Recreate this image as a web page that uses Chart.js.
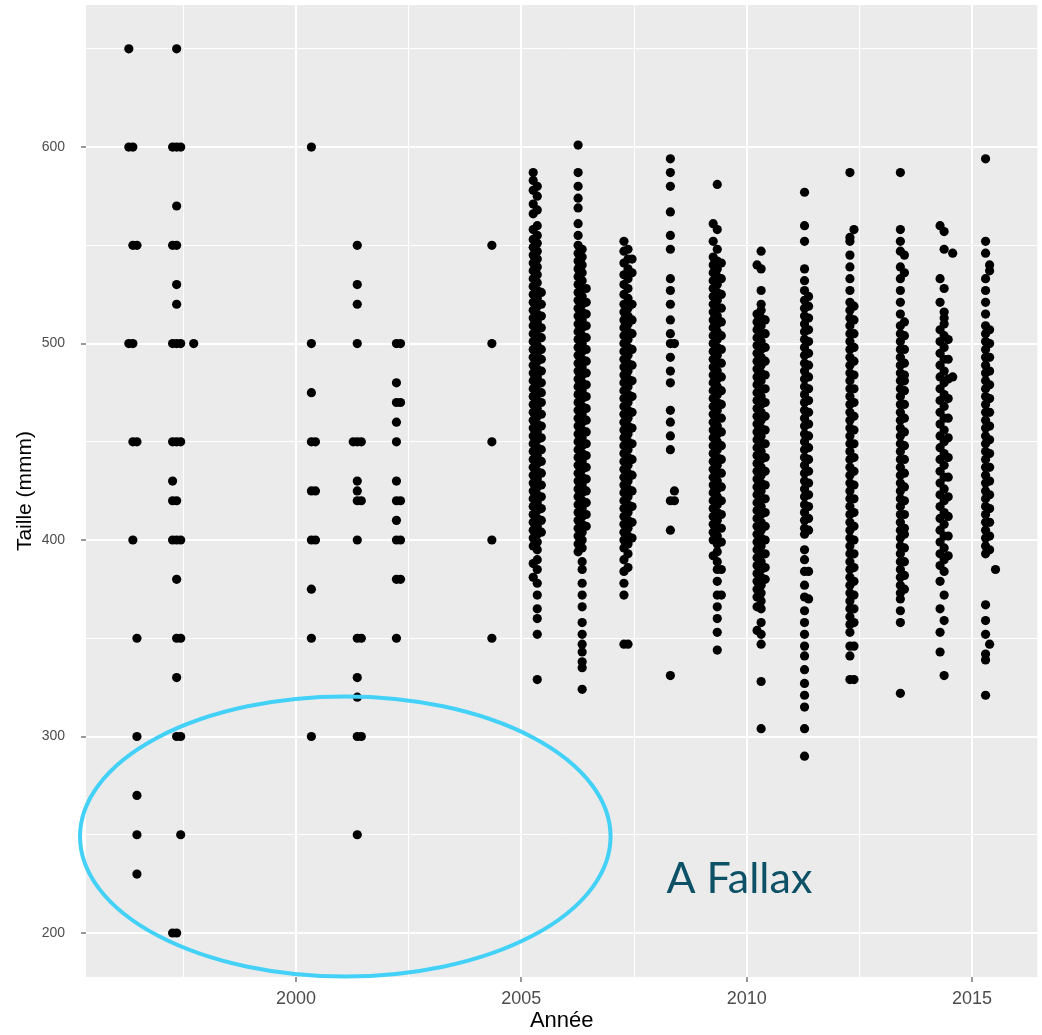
<!DOCTYPE html>
<html>
<head>
<meta charset="utf-8">
<title>Taille par année</title>
<script src="https://cdn.jsdelivr.net/npm/chart.js@4.4.1/dist/chart.umd.min.js"></script>
<style>
  html, body { margin: 0; padding: 0; background: #ffffff; }
  #tailleChart { display: block; }
</style>
</head>
<body>
<canvas id="tailleChart" width="1042" height="1035"></canvas>
<script>
// campagnes d'échantillonnage (année et date décimale de la pêche)
const annees = [1996, 1997, 2000, 2001, 2002, 2004, 2005, 2006, 2007, 2008, 2009, 2010, 2011, 2012, 2013, 2014, 2015];
const dateCampagne = [1996.383, 1997.354, 2000.343, 2001.361, 2002.23, 2004.347, 2005.354, 2006.35, 2007.367,
	2008.307, 2009.347, 2010.32, 2011.283, 2012.29, 2013.409, 2014.38, 2015.299];
// décalage des trois files de points d'une même campagne (gauche, centre, droite)
const decalage = [-0.09, 0, 0.09];

// tailles mesurées (mm), une liste par file
const taille1996 = [[650, 600, 500], [600, 550, 500, 450, 400], [550, 450, 350, 300, 270, 250, 230]];
const taille1997 = [
	[600, 550, 500, 450, 430, 420, 400, 200],
	[650, 600, 570, 550, 530, 520, 500, 450, 420, 400, 380, 350, 330, 300, 200],
	[600, 500, 450, 400, 350, 300, 250]];
const taille2000 = [[], [600, 500, 475, 450, 425, 400, 375, 350, 300], [450, 425, 400]];
const taille2001 = [[450], [550, 530, 520, 500, 450, 430, 425, 420, 400, 350, 330, 320, 300, 250], [450, 420, 350, 300]];
const taille2002 = [[], [500, 480, 470, 460, 450, 430, 420, 410, 400, 380, 350], [500, 470, 420, 400, 380]];
const taille2004 = [[], [550, 500, 450, 400, 350], []];
const taille2005 = [
	[587, 583, 578, 571, 566, 558, 553, 549, 545, 541, 537, 533, 529, 525, 521, 517, 513, 509, 505, 501, 497, 493, 489,
		485, 481, 477, 473, 469, 465, 461, 457, 453, 449, 445, 441, 437, 433, 429, 425, 421, 417, 413, 409, 405, 401, 397, 388, 381],
	[580, 575, 568, 560, 555, 551, 547, 543, 539, 535, 531, 527, 523, 519, 515, 511, 507, 503, 499, 495, 491, 487, 483,
		479, 475, 471, 467, 463, 459, 455, 451, 447, 443, 439, 435, 431, 427, 423, 419, 415, 411, 407, 403, 399, 395, 390,
		385, 378, 372, 365, 360, 352, 329],
	[526, 520, 514, 508, 503, 497, 492, 486, 480, 475, 470, 464, 458, 452, 446, 440, 434, 428, 422, 416, 410, 404]];
const taille2006 = [
	[601, 587, 580, 574, 569, 561, 555, 550, 546, 542, 538, 534, 530, 526, 522, 518, 514, 510, 506, 502, 498, 494, 490,
		486, 482, 478, 474, 470, 466, 462, 458, 454, 450, 446, 442, 438, 434, 430, 426, 422, 418, 414, 410, 406, 402, 398, 394],
	[548, 544, 540, 536, 532, 528, 524, 520, 516, 512, 508, 504, 500, 496, 492, 488, 484, 480, 476, 472, 468, 464, 460,
		456, 452, 448, 444, 440, 436, 432, 428, 424, 420, 416, 412, 408, 404, 400, 396, 389, 385, 378, 372, 366, 358, 352,
		347, 343, 338, 335, 324],
	[528, 521, 515, 509, 503, 497, 491, 485, 479, 473, 467, 461, 455, 449, 443, 437, 431, 425, 419, 413, 407]];
const taille2007 = [
	[552, 547, 541, 535, 530, 525, 520, 516, 512, 508, 504, 500, 496, 492, 488, 484, 480, 476, 472, 468, 464, 460, 456,
		452, 448, 444, 440, 436, 432, 428, 424, 420, 416, 412, 408, 404, 400, 396, 390, 384, 378, 372, 347],
	[548, 543, 538, 533, 528, 523, 518, 514, 510, 506, 502, 498, 494, 490, 486, 482, 478, 474, 470, 466, 462, 458, 454,
		450, 446, 442, 438, 434, 430, 426, 422, 418, 414, 410, 406, 402, 398, 393, 386, 347],
	[543, 536, 520, 512, 505, 497, 489, 481, 473, 465, 457, 449, 441, 433, 425, 417, 409, 401]];
const taille2008 = [[],
	[594, 587, 580, 567, 555, 548, 533, 527, 520, 512, 505, 500, 493, 486, 480, 466, 460, 453, 446, 420, 405, 331],
	[500, 425, 420]];
const taille2009 = [
	[561, 552, 544, 540, 536, 532, 528, 524, 520, 516, 512, 508, 504, 500, 496, 492, 488, 484, 480, 476, 472, 468, 464,
		460, 456, 452, 448, 444, 440, 436, 432, 428, 424, 420, 416, 412, 408, 404, 400, 392],
	[581, 558, 548, 542, 538, 534, 530, 526, 522, 518, 514, 510, 506, 502, 498, 494, 490, 486, 482, 478, 474, 470, 466,
		462, 458, 454, 450, 446, 442, 438, 434, 430, 426, 422, 418, 414, 410, 406, 402, 398, 394, 389, 385, 379, 372, 366,
		360, 353, 344],
	[541, 533, 525, 518, 511, 504, 497, 490, 483, 476, 469, 462, 455, 448, 441, 434, 427, 420, 413, 406, 399, 385, 372]];
const taille2010 = [
	[540, 515, 511, 507, 503, 499, 495, 491, 487, 483, 479, 475, 471, 467, 463, 459, 455, 451, 447, 443, 439, 435, 431,
		427, 423, 419, 415, 411, 407, 403, 399, 395, 391, 387, 383, 379, 375, 371, 366, 354],
	[547, 538, 527, 520, 517, 513, 509, 505, 501, 497, 493, 489, 485, 481, 477, 473, 469, 465, 461, 457, 453, 449, 445,
		441, 437, 433, 429, 425, 421, 417, 413, 409, 405, 401, 397, 393, 389, 385, 381, 377, 373, 369, 365, 358, 352, 347,
		328, 304],
	[512, 505, 498, 491, 484, 477, 470, 463, 456, 449, 442, 435, 428, 421, 414, 407, 400, 393, 386, 380]];
const taille2011 = [[],
	[577, 560, 552, 538, 532, 527, 522, 518, 514, 510, 506, 502, 498, 494, 490, 486, 482, 478, 474, 470, 466, 462, 458,
		454, 450, 446, 442, 438, 434, 430, 426, 422, 418, 414, 410, 406, 403, 395, 390, 384, 377, 371, 364, 358, 352, 346,
		341, 334, 327, 321, 315, 304, 290],
	[524, 519, 513, 507, 501, 495, 489, 483, 477, 471, 465, 459, 453, 447, 441, 435, 429, 423, 417, 411, 405, 384, 370]];
const taille2012 = [[],
	[587, 554, 552, 545, 539, 533, 527, 521, 517, 513, 509, 505, 501, 497, 493, 489, 485, 481, 477, 473, 469, 465, 461,
		457, 453, 449, 445, 441, 437, 433, 429, 425, 421, 417, 413, 409, 405, 401, 397, 393, 389, 385, 381, 377, 373, 369,
		365, 361, 357, 353, 346, 341, 329],
	[558, 519, 512, 505, 498, 491, 484, 477, 470, 463, 456, 449, 442, 435, 428, 421, 414, 407, 400, 393, 386, 379, 372,
		365, 358, 346, 329]];
const taille2013 = [[],
	[587, 558, 552, 547, 539, 533, 527, 521, 515, 509, 505, 501, 497, 493, 489, 485, 481, 477, 473, 469, 465, 461, 457,
		453, 449, 445, 441, 437, 433, 429, 425, 421, 417, 413, 409, 405, 401, 397, 393, 389, 385, 381, 377, 373, 370, 364,
		358, 322],
	[545, 536, 511, 504, 497, 490, 484, 481, 476, 469, 462, 455, 448, 441, 434, 427, 420, 413, 406, 403, 396, 389, 382, 375]];
const taille2014 = [
	[560, 533, 521, 507, 501, 495, 489, 483, 477, 471, 465, 459, 453, 447, 441, 435, 429, 423, 417, 411, 405, 399, 393,
		387, 379, 365, 353, 343],
	[557, 548, 528, 516, 513, 510, 504, 498, 492, 486, 480, 474, 468, 462, 456, 450, 444, 438, 432, 426, 420, 414, 408,
		402, 396, 390, 384, 372, 359, 331],
	[502, 492, 482, 472, 462, 452, 442, 432, 422, 412, 402, 392]];
const taille2015 = [[],
	[594, 552, 546, 533, 527, 521, 515, 509, 505, 501, 497, 493, 489, 485, 481, 477, 473, 469, 465, 461, 457, 453, 449,
		445, 441, 437, 433, 429, 425, 421, 417, 413, 409, 405, 401, 397, 393, 367, 359, 352, 342, 339, 321],
	[540, 537, 507, 500, 493, 486, 479, 472, 465, 458, 451, 444, 437, 430, 423, 416, 409, 402, 395, 347]];
const tailles = [taille1996, taille1997, taille2000, taille2001, taille2002, taille2004, taille2005, taille2006,
	taille2007, taille2008, taille2009, taille2010, taille2011, taille2012, taille2013, taille2014, taille2015];

// quelques poissons pris hors des files
const horsFile = [[1997.732, 500], [2014.57, 546], [2014.57, 483], [2015.52, 385]];

// graduations
const xMajeur = [2000, 2005, 2010, 2015];
const xMineur = [1997.5, 2002.5, 2007.5, 2012.5];
const yMajeur = [200, 300, 400, 500, 600];
const yMineur = [250, 350, 450, 550, 650];

// ellipse et légende "A Fallax"
const ellipseCentre = [2001.095, 249.1];
const ellipseRayons = [5.885, 71.3];
const etiquette = 'A Fallax';
const etiquettePos = [2008.22, 220.4];

var points = [];
for (var i = 0; i < annees.length; i++) {
	for (var f = 0; f < 3; f++) {
		var liste = tailles[i][f];
		for (var k = 0; k < liste.length; k++) {
			points.push({x: dateCampagne[i] + decalage[f], y: liste[k]});
		}
	}
}
for (var h = 0; h < horsFile.length; h++) {
	points.push({x: horsFile[h][0], y: horsFile[h][1]});
}

function isMajeur(scale, value) {
	var liste = scale.axis === 'x' ? xMajeur : yMajeur;
	return liste.indexOf(value) !== -1;
}

function gridWidth(ctx) {
	if (!ctx.tick) return 1;
	return isMajeur(ctx.scale, ctx.tick.value) ? 2 : 1;
}

function tickColor(ctx) {
	if (!ctx.tick) return 'rgba(0,0,0,0)';
	return isMajeur(ctx.scale, ctx.tick.value) ? '#333333' : 'rgba(0,0,0,0)';
}

// pas de marge automatique autour des étiquettes : le panneau va jusqu'aux bords
function sansMarge(scale) {
	scale.paddingTop = 0;
	scale.paddingBottom = 0;
	scale.paddingLeft = 0;
	scale.paddingRight = 0;
}

var fondPanneau = {
	id: 'fondPanneau',
	beforeDraw: function(chart) {
		var a = chart.chartArea;
		var c = chart.ctx;
		c.save();
		c.fillStyle = '#EBEBEB';
		c.fillRect(a.left, a.top, a.right - a.left, a.bottom - a.top);
		c.restore();
	}
};

var annotation = {
	id: 'annotation',
	afterDatasetsDraw: function(chart) {
		var xs = chart.scales.x, ys = chart.scales.y;
		var c = chart.ctx;
		var cx = xs.getPixelForValue(ellipseCentre[0]);
		var cy = ys.getPixelForValue(ellipseCentre[1]);
		var rx = xs.getPixelForValue(ellipseCentre[0] + ellipseRayons[0]) - cx;
		var ry = cy - ys.getPixelForValue(ellipseCentre[1] + ellipseRayons[1]);
		c.save();
		c.beginPath();
		c.ellipse(cx, cy, rx, ry, 0, 0, 2 * Math.PI);
		c.strokeStyle = '#43D1F7';
		c.lineWidth = 4;
		c.stroke();

		c.font = '43px Lato';
		c.fillStyle = '#0D5166';
		c.textAlign = 'left';
		c.textBaseline = 'alphabetic';
		c.fillText(etiquette, xs.getPixelForValue(etiquettePos[0]), ys.getPixelForValue(etiquettePos[1]));
		c.restore();
	}
};

var tailleChart = new Chart(document.getElementById('tailleChart'), {
	type: 'scatter',
	data: {
		datasets: [{
			data: points,
			backgroundColor: '#000000',
			borderWidth: 0,
			pointRadius: 4.6,
			pointHoverRadius: 4.6
		}]
	},
	options: {
		responsive: false,
		animation: false,
		devicePixelRatio: 1,
		layout: { padding: { top: 5, right: 2, left: 0, bottom: 0 } },
		plugins: {
			legend: { display: false },
			tooltip: { enabled: false }
		},
		scales: {
			x: {
				type: 'linear',
				min: 1995.343,
				max: 2016.449,
				afterBuildTicks: function(scale) {
					scale.ticks = xMineur.concat(xMajeur).sort(function(a, b) { return a - b; })
						.map(function(v) { return {value: v}; });
				},
				afterFit: function(scale) { scale.height = 58; sansMarge(scale); },
				border: { display: false },
				grid: { color: '#FFFFFF', lineWidth: gridWidth, tickColor: tickColor, tickLength: 5, tickWidth: 1 },
				ticks: {
					autoSkip: false,
					maxRotation: 0,
					padding: 6,
					color: '#4D4D4D',
					font: { family: 'Liberation Sans', size: 18 },
					callback: function(v) { return xMajeur.indexOf(v) !== -1 ? String(v) : ''; }
				},
				title: {
					display: true,
					text: 'Année',
					color: '#000000',
					font: { family: 'Liberation Sans', size: 22 },
					padding: { top: 0, bottom: 1 }
				}
			},
			y: {
				type: 'linear',
				min: 177.6,
				max: 672.3,
				afterBuildTicks: function(scale) {
					scale.ticks = yMineur.concat(yMajeur).sort(function(a, b) { return a - b; })
						.map(function(v) { return {value: v}; });
				},
				afterFit: function(scale) { scale.width = 86; sansMarge(scale); },
				border: { display: false },
				grid: { color: '#FFFFFF', lineWidth: gridWidth, tickColor: tickColor, tickLength: 5, tickWidth: 1 },
				ticks: {
					autoSkip: false,
					padding: 16,
					color: '#4D4D4D',
					font: { family: 'Liberation Sans', size: 14 },
					callback: function(v) { return yMajeur.indexOf(v) !== -1 ? String(v) : ''; }
				},
				title: {
					display: true,
					text: 'Taille (mmm)',
					color: '#000000',
					font: { family: 'Liberation Sans', size: 21 },
					padding: { top: 13, bottom: 0 }
				}
			}
		}
	},
	plugins: [fondPanneau, annotation]
});
</script>
</body>
</html>
